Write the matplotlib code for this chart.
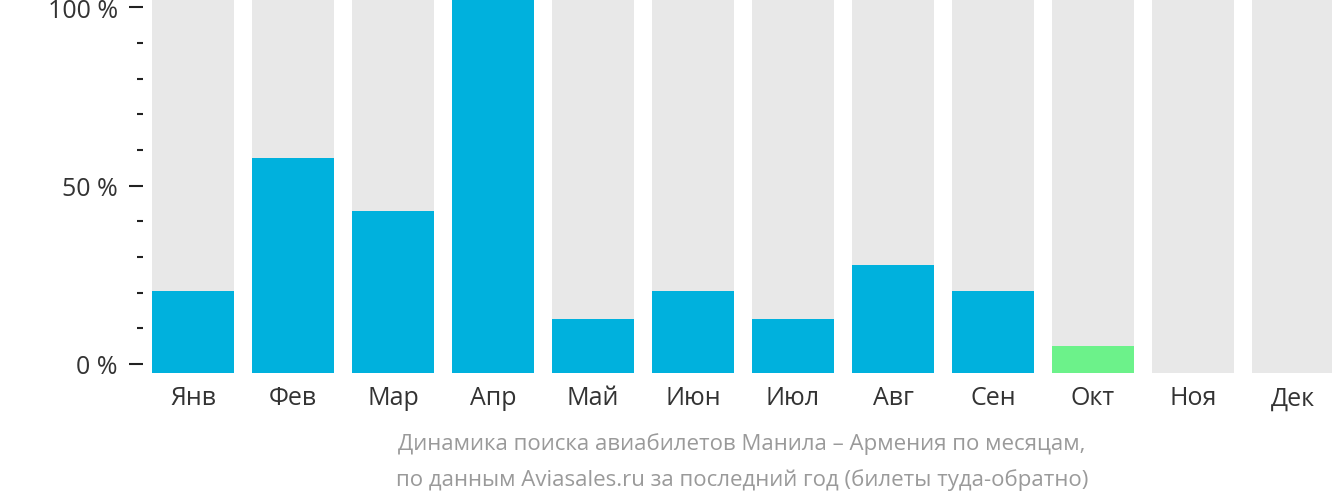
import numpy as np
import matplotlib
matplotlib.use("Agg")
import matplotlib.pyplot as plt
from matplotlib.ticker import MultipleLocator

plt.rcParams['font.family'] = ['Open Sans', 'DejaVu Sans']

months = ['Янв', 'Фев', 'Мар', 'Апр', 'Май', 'Июн', 'Июл', 'Авг', 'Сен', 'Окт', 'Ноя', 'Дек']
# Ноя и Дек — нет данных
values = [20.3, 57.7, 42.8, 102.3, 12.7, 20.3, 12.7, 27.6, 20.3, 5.1, None, None]
colors = ['#00b1dd'] * 9 + ['#6cf28a', '#00b1dd', '#00b1dd']
caption = ['Динамика поиска авиабилетов Манила – Армения по месяцам,',
           'по данным Aviasales.ru за последний год (билеты туда-обратно)']

y_bottom = -2.55
y_top = 102.3

fig = plt.figure(figsize=(13.32, 5.02), dpi=100)
ax = fig.add_axes([143 / 1332, 1 - 374 / 502, (1332 - 143) / 1332, 374 / 502])

x = np.arange(len(months))
# серые подложки
ax.bar(x, y_top - y_bottom, bottom=y_bottom, width=0.82, color='#e8e8e8', zorder=1)

idx = [i for i, v in enumerate(values) if v is not None]
ax.bar(x[idx], [values[i] - y_bottom for i in idx], bottom=y_bottom, width=0.82,
       color=[colors[i] for i in idx], zorder=2)

ax.set_xlim(-0.5, 11.39)
ax.set_ylim(y_bottom, y_top)

ax.set_yticks([0, 50, 100])
ax.set_yticklabels(['0 %', '50 %', '100 %'])
ax.yaxis.set_minor_locator(MultipleLocator(10))
ax.tick_params(axis='y', which='major', length=10, width=1.5, color='#222222',
               labelsize=18, labelcolor='#333333', pad=8)
ax.tick_params(axis='y', which='minor', length=4.3, width=1.5, color='#222222')

ax.set_xticks(x)
ax.set_xticklabels(months)
ax.tick_params(axis='x', length=0, labelsize=18, labelcolor='#333333', pad=9)

for s in ax.spines.values():
    s.set_visible(False)

fig.text(742 / 1332, 1 - 444 / 502, caption[0], ha='center', va='center',
         fontsize=16, color='#9a9a9a')
fig.text(742 / 1332, 1 - 480 / 502, caption[1], ha='center', va='center',
         fontsize=16, color='#9a9a9a')

fig.savefig('out.png', dpi=100)
